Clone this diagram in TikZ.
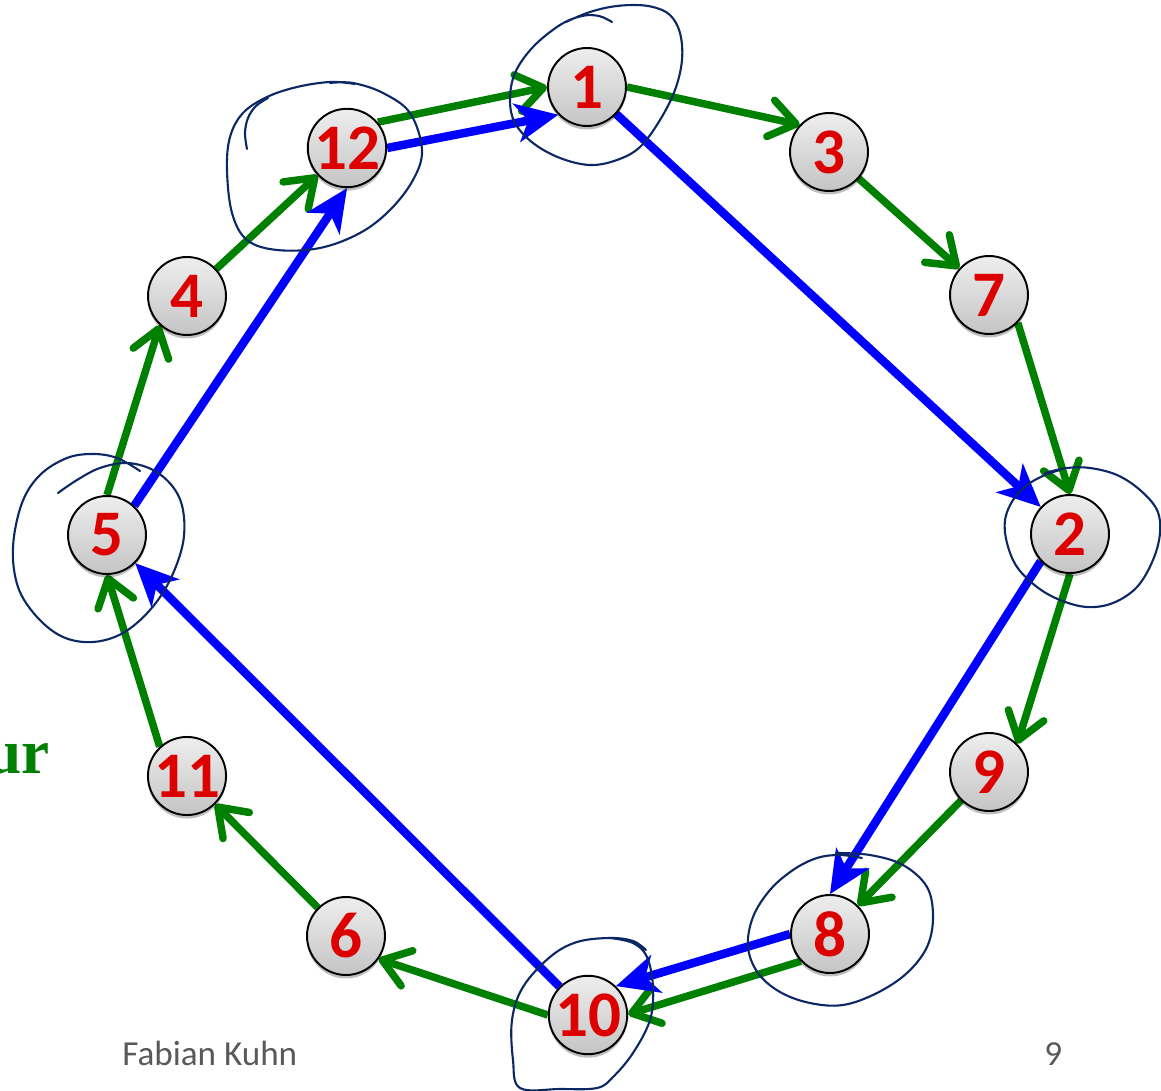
\documentclass[tikz,border=0pt]{standalone}
\usepackage{fontspec}
\usetikzlibrary{arrows.meta,shadows,backgrounds}
\newfontfamily\carlito{Carlito}
\newfontfamily\serifb{Liberation Serif}
\definecolor{ringgreen}{RGB}{0,128,0}
\definecolor{sblue}{RGB}{0,0,255}
\definecolor{nodered}{RGB}{220,0,0}
\definecolor{handnavy}{RGB}{12,40,100}
\definecolor{nodetop}{RGB}{238,238,238}
\definecolor{nodebot}{RGB}{196,196,196}
\definecolor{footgray}{RGB}{89,89,89}
\tikzset{
  vtx/.style={circle, draw=black, line width=1.1pt, minimum size=1.56cm, inner sep=0pt,
    top color=nodetop, bottom color=nodebot,
    drop shadow={shadow xshift=0cm, shadow yshift=-0.07cm, opacity=0.25, fill=black},
    font=\carlito\bfseries\fontsize{37}{37}\selectfont, text=nodered},
  gedge/.style={draw=ringgreen, line width=0.15cm,
    -{Straight Barb[length=0.52cm, width=0.74cm, line cap=round, line join=round]}},
  bedge/.style={draw=sblue, line width=0.17cm,
    -{Stealth[length=0.86cm, width=0.8cm, inset=0.25cm, line width=0pt]}},
  hand/.style={draw=handnavy, line width=1.2pt, line cap=round, line join=round},
}
\begin{document}
\begin{tikzpicture}[x=0.02cm, y=-0.02cm]
\useasboundingbox (0,0) rectangle (1161,1091);
% nodes
\node[vtx] (n1)  at (587,87)   {1};
\node[vtx] (n3)  at (829,152)  {3};
\node[vtx] (n7)  at (989,295)  {7};
\node[vtx] (n2)  at (1070,534) {2};
\node[vtx] (n9)  at (989,772)  {9};
\node[vtx] (n8)  at (830,934)  {8};
\node[vtx] (n10) at (588,1015) {10};
\node[vtx] (n6)  at (346,936)  {6};
\node[vtx] (n11) at (187,776)  {11};
\node[vtx] (n5)  at (107,535)  {5};
\node[vtx] (n4)  at (187,296)  {4};
\node[vtx] (n12) at (347,148)  {12};
% edges
\begin{pgfonlayer}{background}
\draw[gedge] (n12.40) -- (n1.180);
\draw[gedge] (n1.0) -- (n3.137);
\draw[gedge] (n3) -- (n7);
\draw[gedge] (n7.-44) -- (n2.90);
\draw[gedge] (n2.-90) -- (n9.45);
\draw[gedge] (n9) -- (n8);
\draw[gedge] (n8.223) -- (n10.1);
\draw[gedge] (n10.180) -- (n6.-35);
\draw[gedge] (n6) -- (n11);
\draw[gedge] (n11.133) -- (n5.-90);
\draw[gedge] (n5.90) -- (n4.227);
\draw[gedge] (n4) -- (n12);
\draw[bedge] (n12.0) -- (n1.224);
\draw[bedge] (n1) -- (n2);
\draw[bedge] (n2.223) -- (n8.90);
\draw[bedge] (n8.180) -- (n10.46);
\draw[bedge] (n10) -- (n5);
\draw[bedge] (n5.47) -- (n12.-90);
\end{pgfonlayer}
% hand-drawn circles
\draw[hand] plot[smooth, tension=0.6] coordinates {(612,22) (599,16) (582,16) (560,25) (533,47) (515,73) (510,100) (515,123) (533,143) (560,158) (590,165) (617,160) (640,147) (660,120) (675,90) (682,60) (680,33) (670,15) (653,7) (633,5) (610,7) (587,13) (566,22)};
\draw[hand] plot[smooth, tension=0.6] coordinates {(330,83) (353,83) (383,93) (410,113) (422,150) (413,180) (390,210) (360,233) (320,248) (277,250) (247,240) (232,213) (227,170) (230,137) (243,113) (267,97) (297,87) (330,82) (355,84)};
\draw[hand] plot[smooth, tension=0.6] coordinates {(268,98) (256,106) (248,118) (245,133) (247,149)};
\draw[hand] plot[smooth, tension=0.6] coordinates {(140,471) (117,458) (93,454) (67,458) (40,475) (22,503) (13,547) (18,587) (37,617) (63,637) (93,642) (123,633) (150,610) (170,580) (183,543) (183,510) (173,487) (153,470) (127,463) (100,468) (77,480) (58,493)};
\draw[hand] plot[smooth, tension=0.6] coordinates {(1045,473) (1067,468) (1090,468) (1117,475) (1140,490) (1157,510) (1160,533) (1153,560) (1137,587) (1113,603) (1087,607) (1060,600) (1037,587) (1017,567) (1007,543) (1005,520) (1013,500) (1027,485) (1045,475) (1060,470)};
\draw[hand] plot[smooth, tension=0.6] coordinates {(836,853) (870,855) (903,865) (927,887) (933,917) (927,947) (907,973) (877,993) (843,1005) (810,1003) (780,992) (758,973) (748,947) (753,917) (770,890) (793,870) (817,858) (840,855) (862,858)};
\draw[hand] plot[smooth, tension=0.6] coordinates {(610,938) (633,943) (647,957) (653,987) (650,1020) (633,1053) (613,1077) (597,1088) (560,1089) (520,1088) (513,1060) (512,1020) (523,987) (550,957) (577,942) (610,938) (633,941) (646,950)};
% texts
\node[anchor=base east, inner sep=0pt, text=ringgreen, font=\serifb\bfseries\fontsize{36}{36}\selectfont] (ur) at (50,773) {ur};
\node[anchor=base west, inner sep=0pt, text=footgray, font=\carlito\fontsize{20}{20}\selectfont] (foot) at (122,1065) {Fabian Kuhn};
\node[anchor=base west, inner sep=0pt, text=footgray, font=\carlito\fontsize{20}{20}\selectfont] (pg) at (1044,1065) {9};
\end{tikzpicture}
\end{document}
